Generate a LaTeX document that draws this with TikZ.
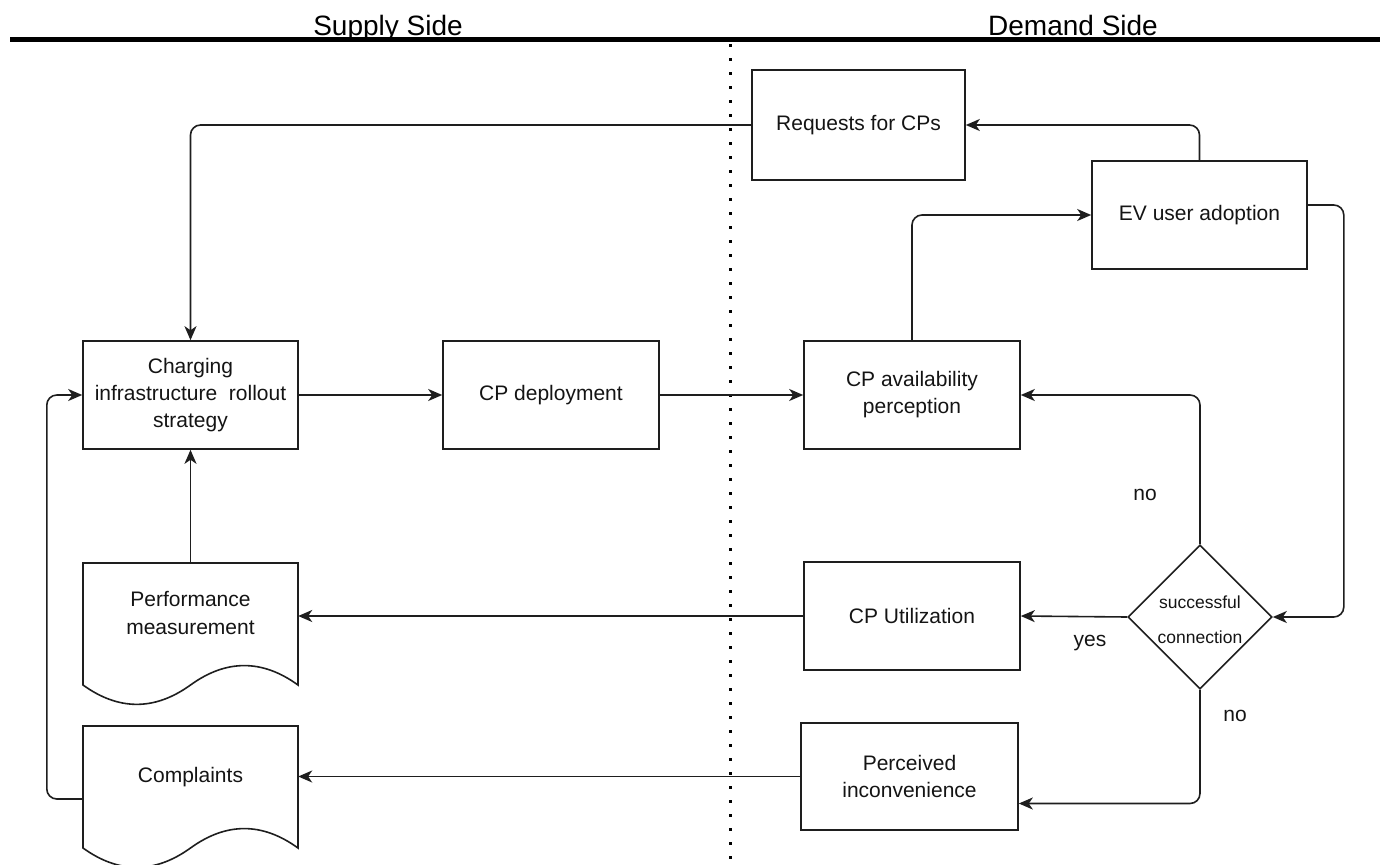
\documentclass[tikz,border=0pt]{standalone}
\usepackage{fontspec}
\setmainfont{Liberation Sans}
\usetikzlibrary{arrows.meta,shapes.geometric}
\definecolor{txt}{HTML}{141414}
\definecolor{ln}{HTML}{1E1E1E}
\tikzset{
  box/.style={draw=ln, line width=1.6pt, rectangle, inner sep=0pt, align=center, text=txt,
    font=\fontsize{21}{27}\selectfont, minimum width=216, minimum height=108},
  docshape/.style={draw=ln, line width=1.6pt},
  anchorbox/.style={rectangle, inner sep=0pt, minimum width=215, minimum height=122},
  conn/.style={draw=ln, line width=1.6pt, rounded corners=10pt, -{Stealth[length=14pt,width=12pt,inset=4pt]}},
  lbl/.style={text=txt, font=\fontsize{21}{24}\selectfont, inner sep=0pt},
  head/.style={text=black, font=\fontsize{28}{32}\selectfont, anchor=base, inner sep=0pt},
}
\begin{document}
\begin{tikzpicture}[x=1pt,y=-1pt]
\useasboundingbox (0,0) rectangle (1385,865);

% headers and separators
\draw[line width=5pt] (10,39.5) -- (1380,39.5);
\draw[line width=3pt, dash pattern=on 3pt off 11pt] (730.5,44) -- (730.5,865);
\node[head] (sup) at (388,35) {Supply Side};
\node[head] (dem) at (1073,35) {Demand Side};

% process boxes
\node[box, minimum width=213, minimum height=110] (req) at (858.5,125) {Requests for CPs};
\node[box, minimum width=215] (ev) at (1199.5,215) {EV user adoption};
\node[box, minimum width=215] (cis) at (190.5,395) {Charging\\infrastructure\ \ rollout\\strategy};
\node[box] (dep) at (551,395) {CP deployment};
\node[box] (avail) at (912,395) {CP availability\\perception};
\node[box] (util) at (912,616) {CP Utilization};
\node[box, minimum width=217, minimum height=107] (inc) at (909.5,776.5) {Perceived\\inconvenience};

% decision
\node[draw=ln, line width=1.6pt, diamond, minimum width=144, minimum height=144, inner sep=0pt] (dia) at (1200,617) {};
\node[lbl, font=\fontsize{17.5}{35}\selectfont, align=center] (diaT) at (1200,620) {successful\\connection};

% document shapes
\draw[docshape] (83,563) -- (298,563) -- (298,685)
  .. controls (262.2,659.1) and (226.3,659.1) .. (190.5,685)
  .. controls (154.7,710.8) and (118.8,710.8) .. (83,685) -- cycle;
\node[anchorbox] (perf) at (190.5,624) {};
\node[lbl, align=center, font=\fontsize{21}{28}\selectfont] (perfT) at (190.5,613) {Performance\\measurement};

\draw[docshape] (83,726) -- (298,726) -- (298,848)
  .. controls (262.2,822.1) and (226.3,822.1) .. (190.5,848)
  .. controls (154.7,873.8) and (118.8,873.8) .. (83,848) -- cycle;
\node[anchorbox] (comp) at (190.5,787) {};
\node[lbl] (compT) at (190.5,777) {Complaints};

% connectors
\draw[conn] (req.west) -| (cis.north);
\draw[conn] (ev.north) |- (req.east);
\draw[conn] (avail.north) |- (ev.west);
\draw[conn] ([yshift=10pt]ev.east) -- ++(36,0) |- (dia.east);
\draw[conn] (cis.east) -- (dep.west);
\draw[conn] (dep.east) -- (avail.west);
\draw[conn] (dia.north) |- (avail.east);
\draw[conn] (dia.west) -- (util.east);
\draw[conn] (dia.south) |- ([yshift=-27pt]inc.east);
\draw[conn] (util.west) -- (util.west -| perf.east);
\draw[conn] (perf.north) -- (cis.south);
\draw[conn] (inc.west) -- (inc.west -| comp.east);
\draw[conn] ([yshift=-12pt]comp.west) -- ++(-36,0) |- (cis.west);

% branch labels
\node[lbl] (no1) at (1145,495) {no};
\node[lbl] (yes) at (1090,643) {yes};
\node[lbl] (no2) at (1235,716) {no};
\end{tikzpicture}
\end{document}
